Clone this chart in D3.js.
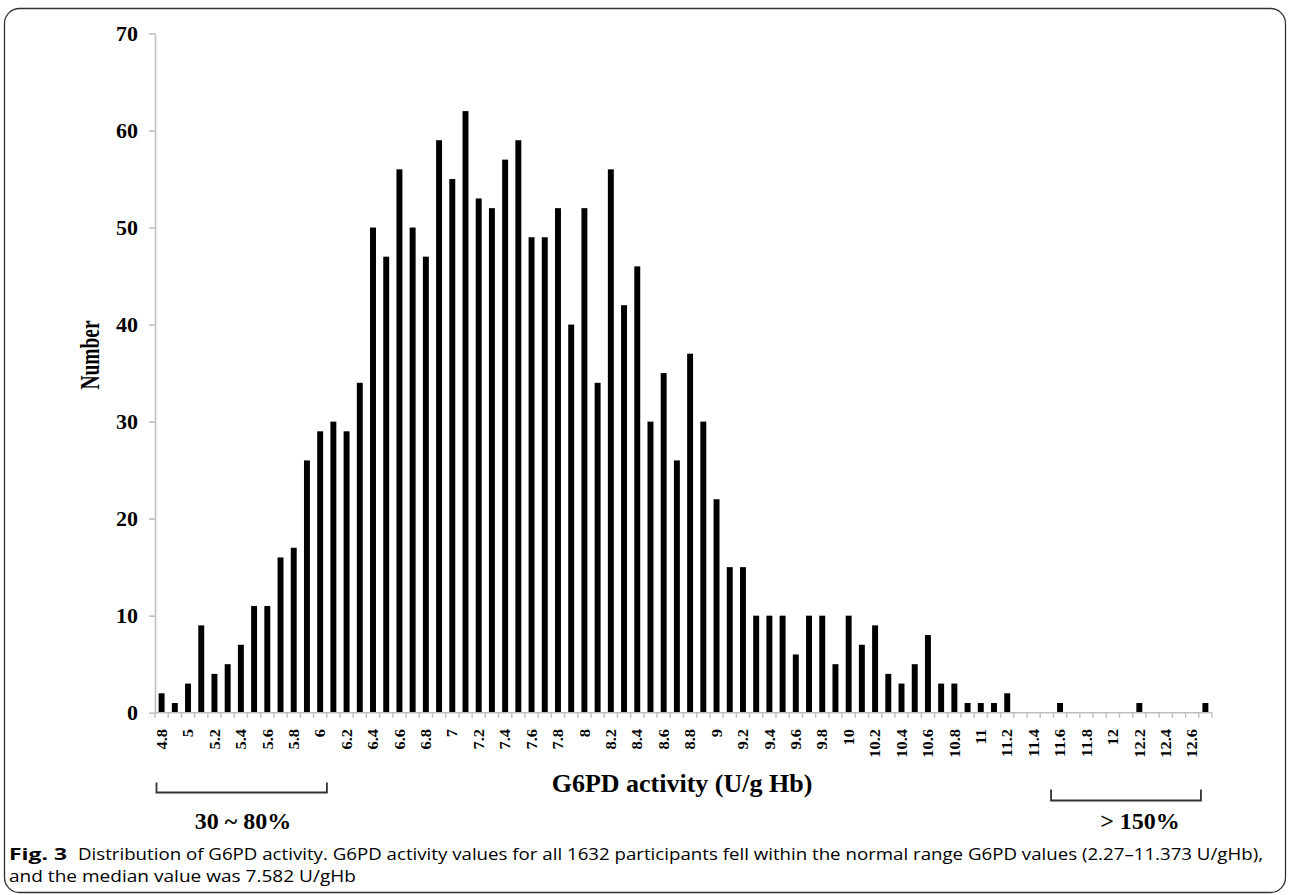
<!DOCTYPE html>
<html>
<head>
<meta charset="utf-8">
<script src="https://cdn.jsdelivr.net/npm/d3@7"></script>
<style>
  html, body { margin: 0; padding: 0; background: #fff; }
  svg { display: block; }
</style>
</head>
<body>
<svg id="chart" width="1290" height="895"></svg>
<script>
// ---- data ----
const categories = ["4.8","4.9","5.0","5.1","5.2","5.3","5.4","5.5","5.6","5.7",
  "5.8","5.9","6.0","6.1","6.2","6.3","6.4","6.5","6.6","6.7",
  "6.8","6.9","7.0","7.1","7.2","7.3","7.4","7.5","7.6","7.7",
  "7.8","7.9","8.0","8.1","8.2","8.3","8.4","8.5","8.6","8.7",
  "8.8","8.9","9.0","9.1","9.2","9.3","9.4","9.5","9.6","9.7",
  "9.8","9.9","10.0","10.1","10.2","10.3","10.4","10.5","10.6","10.7",
  "10.8","10.9","11.0","11.1","11.2","11.3","11.4","11.5","11.6","11.7",
  "11.8","11.9","12.0","12.1","12.2","12.3","12.4","12.5","12.6","12.7"];
const counts = [2,1,3,9,4,5,7,11,11,16,
  17,26,29,30,29,34,50,47,56,50,
  47,59,55,62,53,52,57,59,49,49,
  52,40,52,34,56,42,46,30,35,26,
  37,30,22,15,15,10,10,10,6,10,
  10,5,10,7,9,4,3,5,8,3,
  3,1,1,1,2,0,0,0,1,0,
  0,0,0,0,1,0,0,0,0,1];
const xTickCategories = ["4.8","5.0","5.2","5.4","5.6","5.8","6.0","6.2","6.4","6.6","6.8",
  "7.0","7.2","7.4","7.6","7.8","8.0","8.2","8.4","8.6","8.8","9.0","9.2","9.4","9.6","9.8",
  "10.0","10.2","10.4","10.6","10.8","11.0","11.2","11.4","11.6","11.8","12.0","12.2","12.4","12.6"];
const xTickLabels = ["4.8","5","5.2","5.4","5.6","5.8","6","6.2","6.4","6.6","6.8",
  "7","7.2","7.4","7.6","7.8","8","8.2","8.4","8.6","8.8","9","9.2","9.4","9.6","9.8",
  "10","10.2","10.4","10.6","10.8","11","11.2","11.4","11.6","11.8","12","12.2","12.4","12.6"];
const yTicks = [0,10,20,30,40,50,60,70];
const yTitle = "Number";
const xTitle = "G6PD activity (U/g Hb)";
const leftRangeLabel = "30 ~ 80%";
const rightRangeLabel = "> 150%";
const captionBold = "Fig. 3";
const captionLine1 = "Distribution of G6PD activity. G6PD activity values for all 1632 participants fell within the normal range G6PD values (2.27\u201311.373 U/gHb),";
const captionLine2 = "and the median value was 7.582 U/gHb";

// ---- layout ----
const svg = d3.select("#chart");
const plot = { left: 155, right: 1212, top: 33.5, bottom: 712.7 };
const serif = "'Liberation Serif', 'Times New Roman', serif";
const axisGrey = "#bfbfbf";

// outer frame
svg.append("rect")
  .attr("x", 4.5).attr("y", 8.5).attr("width", 1281).attr("height", 884)
  .attr("rx", 15).attr("ry", 15)
  .attr("fill", "none").attr("stroke", "#333").attr("stroke-width", 1.3);

const x = d3.scaleBand().domain(categories)
  .range([plot.left, plot.right]).paddingInner(0.55).paddingOuter(0.275);
const y = d3.scaleLinear().domain([0, 70]).range([plot.bottom, plot.top]);

// y axis
const yAxis = svg.append("g").attr("transform", `translate(${plot.left},0)`)
  .call(d3.axisLeft(y).tickValues(yTicks).tickSize(6).tickSizeOuter(0).tickPadding(11));
yAxis.select(".domain").attr("stroke", axisGrey).attr("stroke-width", 1.6);
yAxis.selectAll(".tick line").attr("stroke", axisGrey).attr("stroke-width", 1.6);
yAxis.selectAll(".tick text")
  .attr("font-family", serif).attr("font-weight", "bold").attr("font-size", 22)
  .attr("fill", "#000");

// bars
svg.append("g").selectAll("rect").data(categories).join("rect")
  .attr("x", (d) => x(d))
  .attr("width", x.bandwidth())
  .attr("y", (d, i) => y(counts[i]))
  .attr("height", (d, i) => y(0) - y(counts[i]))
  .attr("fill", "#000");

// x axis line and boundary ticks
const gap = x.step() - x.bandwidth();
const boundaries = categories.map((c) => x(c) - gap / 2).concat([x(categories[categories.length - 1]) + x.bandwidth() + gap / 2]);
const xg = svg.append("g");
xg.append("line")
  .attr("x1", boundaries[0]).attr("x2", boundaries[boundaries.length - 1])
  .attr("y1", y(0)).attr("y2", y(0))
  .attr("stroke", axisGrey).attr("stroke-width", 1.6);
xg.selectAll("line.tk").data(boundaries).join("line").attr("class", "tk")
  .attr("x1", (d) => d).attr("x2", (d) => d)
  .attr("y1", y(0)).attr("y2", y(0) + 5)
  .attr("stroke", axisGrey).attr("stroke-width", 1.4);

// x tick labels (rotated)
xg.selectAll("text").data(xTickCategories).join("text")
  .attr("transform", (d) => `translate(${x(d) + x.bandwidth() / 2},729) rotate(-90) scale(1,0.9)`)
  .attr("text-anchor", "end").attr("dy", "0.35em")
  .attr("font-family", serif).attr("font-weight", "bold").attr("font-size", 16.5)
  .attr("fill", "#000")
  .text((d, i) => xTickLabels[i]);

// axis titles
svg.append("text")
  .attr("transform", "translate(99,355) rotate(-90)")
  .attr("text-anchor", "middle")
  .attr("font-family", serif).attr("font-weight", "bold").attr("font-size", 27)
  .attr("textLength", 69).attr("lengthAdjust", "spacingAndGlyphs")
  .text(yTitle);
svg.append("text")
  .attr("x", 682).attr("y", 792).attr("text-anchor", "middle")
  .attr("font-family", serif).attr("font-weight", "bold").attr("font-size", 26)
  .text(xTitle);

// range brackets
function bracket(x1, x2, yTop, yBot) {
  svg.append("path")
    .attr("d", `M${x1},${yTop}V${yBot}H${x2}V${yTop}`)
    .attr("fill", "none").attr("stroke", "#333").attr("stroke-width", 1.8);
}
bracket(x(categories[0]) - gap / 2 + 1.5, x("6.1") - 3.5, 782.5, 792.5);
bracket(x("11.6") - 6, x("12.7") - 1.5, 789.5, 800.5);
svg.append("text").attr("x", 243).attr("y", 829).attr("text-anchor", "middle")
  .attr("font-family", serif).attr("font-weight", "bold").attr("font-size", 24)
  .text(leftRangeLabel);
svg.append("text").attr("x", 1140).attr("y", 829).attr("text-anchor", "middle")
  .attr("font-family", serif).attr("font-weight", "bold").attr("font-size", 24)
  .text(rightRangeLabel);

// caption
const sans = "'Open Sans', 'Noto Sans', sans-serif";
svg.append("text").attr("x", 9).attr("y", 860)
  .attr("font-family", sans).attr("font-weight", "bold").attr("font-size", 16.5)
  .attr("textLength", 58).attr("lengthAdjust", "spacingAndGlyphs")
  .text(captionBold);
svg.append("text").attr("x", 78).attr("y", 860)
  .attr("font-family", sans).attr("font-size", 16.5)
  .attr("textLength", 1185).attr("lengthAdjust", "spacingAndGlyphs")
  .text(captionLine1);
svg.append("text").attr("x", 9).attr("y", 882)
  .attr("font-family", sans).attr("font-size", 16.5)
  .attr("textLength", 347).attr("lengthAdjust", "spacingAndGlyphs")
  .text(captionLine2);
</script>
</body>
</html>
